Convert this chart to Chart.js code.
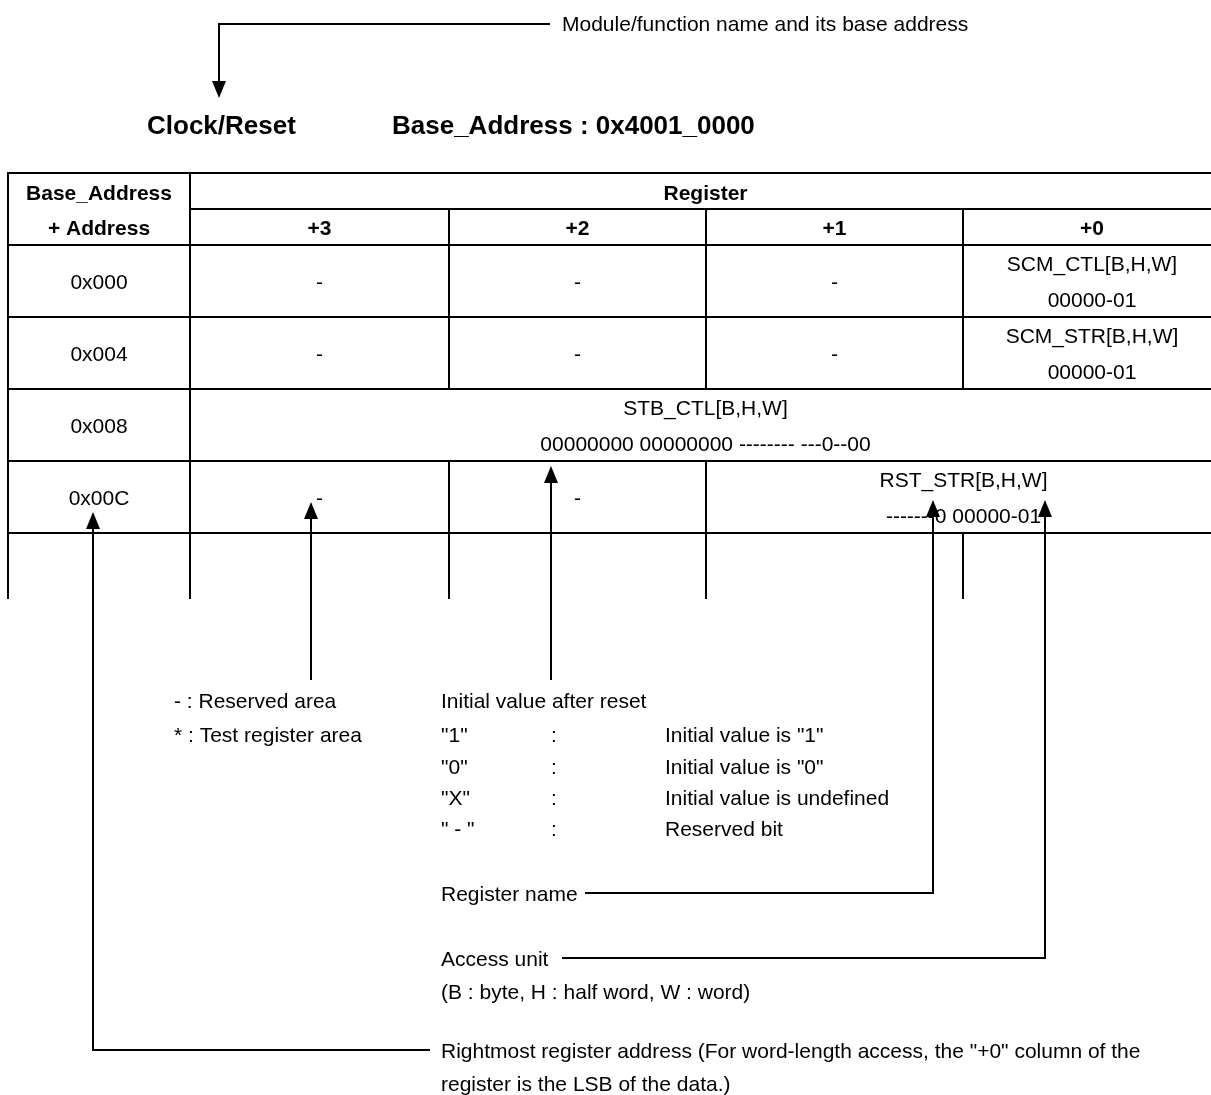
<!DOCTYPE html>
<html>
<head>
<meta charset="utf-8">
<title>Register map notation</title>
<script src="https://cdn.jsdelivr.net/npm/chart.js"></script>
<style>
  html, body { margin: 0; padding: 0; background: #fff; }
  #wrap { width: 1211px; height: 1095px; position: relative; }
</style>
</head>
<body>
<div id="wrap"><canvas id="regmap"></canvas></div>
<script>
// Texts of the register map
const moduleName = 'Clock/Reset';
const baseAddress = 'Base_Address : 0x4001_0000';
const addressHeader = ['Base_Address', '+ Address'];
const registerHeader = 'Register';
const byteColumns = ['+3', '+2', '+1', '+0'];
const rowAddresses = ['0x000', '0x004', '0x008', '0x00C'];
const registerNames = ['SCM_CTL[B,H,W]', 'SCM_STR[B,H,W]', 'STB_CTL[B,H,W]', 'RST_STR[B,H,W]'];
const initialValues = ['00000-01', '00000-01', '00000000 00000000 -------- ---0--00', '-------0 00000-01'];
const registerBytes = [1, 1, 4, 2]; // width in bytes, counted from +0
const reservedMark = '-';

// Legend / callouts
const areaLegend = ['- : Reserved area', '* : Test register area'];
const initTitle = 'Initial value after reset';
const initCodes = ['"1"', '"0"', '"X"', '" - "'];
const initMeanings = ['Initial value is "1"', 'Initial value is "0"', 'Initial value is undefined', 'Reserved bit'];
const calloutTop = 'Module/function name and its base address';
const calloutName = 'Register name';
const calloutAccess = ['Access unit', '(B : byte, H : half word, W : word)'];
const calloutAddress = ['Rightmost register address (For word-length access, the "+0" column of the',
                        'register is the LSB of the data.)'];

// Layout (pixels of the 1211x1095 page)
const W = 1211, H = 1095;
const colEdges = [8, 190, 449, 706, 963, 1221];
const headTop = 173, headMid = 209, headBottom = 245;
const rowH = 72;
const tableBottom = 598;
const lineGap = 18;
const textShift = 2; // canvas 'middle' sits a bit high for this font

const FONT = "'Liberation Sans', Arial, Helvetica, sans-serif";
const fReg = '21px ' + FONT;
const fBold = 'bold 21px ' + FONT;
const fTitle = 'bold 26px ' + FONT;

const rowEdges = rowAddresses.map((_, i) => headBottom + i * rowH).concat(headBottom + rowAddresses.length * rowH);
const colCenter = (a, b) => (colEdges[a] + colEdges[b]) / 2;

// ---- line segments of the table ----
const segments = [];
function seg(x1, y1, x2, y2) { segments.push([[x1, y1], [x2, y2]]); }

seg(colEdges[0], headTop, colEdges[5], headTop);
seg(colEdges[1], headMid, colEdges[5], headMid);
rowEdges.forEach(y => seg(colEdges[0], y, colEdges[5], y));
seg(colEdges[0], headTop, colEdges[0], tableBottom);
seg(colEdges[1], headTop, colEdges[1], tableBottom);

// inner byte boundaries, broken where a register spans across them
for (let k = 1; k <= 3; k++) {
    const x = colEdges[1 + k];
    const bands = [[headMid, headBottom]];
    registerBytes.forEach((w, i) => {
        if (k < 5 - w) bands.push([rowEdges[i], rowEdges[i + 1]]);
        else bands.push(null);
    });
    bands.push([rowEdges[rowEdges.length - 1], tableBottom]);
    let start = null, end = null;
    bands.forEach(b => {
        if (b) { if (start === null) start = b[0]; end = b[1]; }
        else if (start !== null) { seg(x, start, x, end); start = null; }
    });
    if (start !== null) seg(x, start, x, end);
}

// ---- callout arrows: polyline ending at the tip ----
const HEAD = 17;
const arrows = [
    { path: [[550, 24], [219, 24], [219, 98]] },
    { path: [[430, 1050], [93, 1050], [93, 512]] },
    { path: [[311, 680], [311, 502]] },
    { path: [[551, 680], [551, 466]] },
    { path: [[585, 893], [933, 893], [933, 500]] },
    { path: [[562, 958], [1045, 958], [1045, 500]] }
];

// arrowhead image used as point style
const headImg = document.createElement('canvas');
headImg.width = 14; headImg.height = HEAD;
(function () {
    const c = headImg.getContext('2d');
    c.fillStyle = '#000';
    c.beginPath();
    c.moveTo(7, 0); c.lineTo(14, HEAD); c.lineTo(0, HEAD); c.closePath();
    c.fill();
})();

const datasets = [];
segments.forEach(s => datasets.push({
    data: s.map(p => ({ x: p[0], y: p[1] })),
    showLine: true, borderColor: '#000', borderWidth: 2, pointRadius: 0,
    borderCapStyle: 'square', clip: false
}));

const heads = [], headRot = [];
arrows.forEach(a => {
    const pts = a.path.map(p => ({ x: p[0], y: p[1] }));
    const tip = pts[pts.length - 1], prev = pts[pts.length - 2];
    const dy = Math.sign(tip.y - prev.y); // +1 pointing down, -1 pointing up
    pts[pts.length - 1] = { x: tip.x, y: tip.y - dy * (HEAD - 2) };
    datasets.push({
        data: pts, showLine: true, borderColor: '#000', borderWidth: 2,
        pointRadius: 0, borderJoinStyle: 'miter', clip: false
    });
    heads.push({ x: tip.x, y: tip.y - dy * HEAD / 2 });
    headRot.push(dy > 0 ? 180 : 0);
});
datasets.push({
    data: heads, showLine: false, pointStyle: headImg, pointRadius: 9,
    pointRotation: headRot, clip: false
});

// ---- text labels ----
const labels = [];
function label(text, x, y, font, align) { labels.push({ text, x, y: y + textShift, font, align: align || 'center' }); }

label(moduleName, 147, 125, fTitle, 'left');
label(baseAddress, 392, 125, fTitle, 'left');
label(calloutTop, 562, 23, fReg, 'left');

label(addressHeader[0], colCenter(0, 1), headTop + 19, fBold);
label(addressHeader[1], colCenter(0, 1), headMid + 18, fBold);
label(registerHeader, colCenter(1, 5), headTop + 19, fBold);
byteColumns.forEach((t, c) => label(t, colCenter(c + 1, c + 2), headMid + 18, fBold));

rowAddresses.forEach((addr, i) => {
    const cy = rowEdges[i] + rowH / 2;
    label(addr, colCenter(0, 1), cy, fReg);
    const w = registerBytes[i];
    for (let c = 0; c < 4 - w; c++) label(reservedMark, colCenter(c + 1, c + 2), cy, fReg);
    const rx = colCenter(5 - w, 5);
    label(registerNames[i], rx, cy - lineGap, fReg);
    label(initialValues[i], rx, cy + lineGap, fReg);
});

const legendY = [700, 734, 766, 797, 828];
areaLegend.forEach((t, i) => label(t, 174, legendY[i], fReg, 'left'));
label(initTitle, 441, legendY[0], fReg, 'left');
initCodes.forEach((t, i) => {
    label(t, 441, legendY[i + 1], fReg, 'left');
    label(':', 551, legendY[i + 1], fReg, 'left');
    label(initMeanings[i], 665, legendY[i + 1], fReg, 'left');
});

label(calloutName, 441, 893, fReg, 'left');
label(calloutAccess[0], 441, 958, fReg, 'left');
label(calloutAccess[1], 441, 991, fReg, 'left');
label(calloutAddress[0], 441, 1050, fReg, 'left');
label(calloutAddress[1], 441, 1083, fReg, 'left');

const textPlugin = {
    id: 'diagramText',
    afterDatasetsDraw(chart) {
        const { ctx, scales: { x, y } } = chart;
        ctx.save();
        ctx.fillStyle = '#000';
        ctx.textBaseline = 'middle';
        labels.forEach(l => {
            ctx.font = l.font;
            ctx.textAlign = l.align;
            ctx.fillText(l.text, x.getPixelForValue(l.x), y.getPixelForValue(l.y));
        });
        ctx.restore();
    }
};

new Chart(document.getElementById('regmap').getContext('2d'), {
    type: 'scatter',
    data: { datasets },
    options: {
        responsive: true,
        maintainAspectRatio: false,
        animation: false,
        events: [],
        layout: { padding: 0, autoPadding: false },
        elements: { line: { tension: 0 } },
        plugins: { legend: { display: false }, tooltip: { enabled: false } },
        scales: {
            x: { type: 'linear', min: 0, max: W, display: false },
            y: { type: 'linear', min: 0, max: H, reverse: true, display: false }
        }
    },
    plugins: [textPlugin]
});
</script>
</body>
</html>
